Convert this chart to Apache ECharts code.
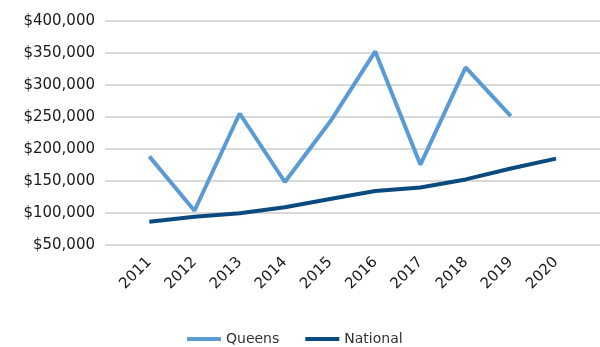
<!DOCTYPE html>
<html>
<head>
<meta charset="utf-8">
<script src="https://cdn.jsdelivr.net/npm/echarts@6/dist/echarts.min.js"></script>
<style>html,body{margin:0;padding:0;background:#fff;}#c{width:600px;height:347px;}</style>
</head>
<body>
<div id="c"></div>
<script>
var years = ['2011','2012','2013','2014','2015','2016','2017','2018','2019','2020'];
var queens = [188000, 103000, 255000, 148000, 242000, 352000, 175000, 327000, 251000, null];
var national = [86000, 93500, 99000, 108500, 121500, 134000, 139500, 152000, 169000, 184500];
var yMin = 50000, yMax = 400000, yStep = 50000;

var chart = echarts.init(document.getElementById('c'));
var font = '"DejaVu Sans", "Open Sans", sans-serif';
chart.setOption({
  animation: false,
  backgroundColor: '#fff',
  legend: {
    bottom: 1,
    padding: 0,
    left: 187,
    itemWidth: 34, itemHeight: 4, itemGap: 26,
    icon: 'rect',
    textStyle: {fontFamily: font, fontSize: 14, color: '#333'},
    data: ['Queens', 'National']
  },
  grid: [
    {left: 105, right: 0, top: 20.7, bottom: 102.3},
    {left: 126.7, right: 21.4, top: 20.7, bottom: 102.3}
  ],
  xAxis: [
    {gridIndex: 0, type: 'value', min: 0, max: 1, show: false},
    {gridIndex: 1, type: 'category', data: years, boundaryGap: true,
     axisLine: {show: false}, axisTick: {show: false},
     axisLabel: {rotate: 45, fontFamily: font, fontSize: 15, color: '#1a1a1a', margin: 15, interval: 0}}
  ],
  yAxis: [
    {gridIndex: 0, type: 'value', min: yMin, max: yMax, interval: yStep,
     axisLine: {show: false}, axisTick: {show: false},
     splitLine: {lineStyle: {color: '#d9d9d9', width: 2}},
     axisLabel: {fontFamily: font, fontSize: 15, color: '#1a1a1a', margin: 10,
       formatter: function(v){ return '$' + v.toLocaleString('en-US'); }}},
    {gridIndex: 1, type: 'value', min: yMin, max: yMax, interval: yStep, show: false,
     splitLine: {show: false}}
  ],
  series: [
    {name: 'Queens', type: 'line', xAxisIndex: 1, yAxisIndex: 1, data: queens,
     symbol: 'none', lineStyle: {color: '#5b9bd5', width: 4}, itemStyle: {color: '#5b9bd5'}},
    {name: 'National', type: 'line', xAxisIndex: 1, yAxisIndex: 1, data: national,
     symbol: 'none', lineStyle: {color: '#0b4a7e', width: 4}, itemStyle: {color: '#0b4a7e'}}
  ]
});
</script>
</body>
</html>
